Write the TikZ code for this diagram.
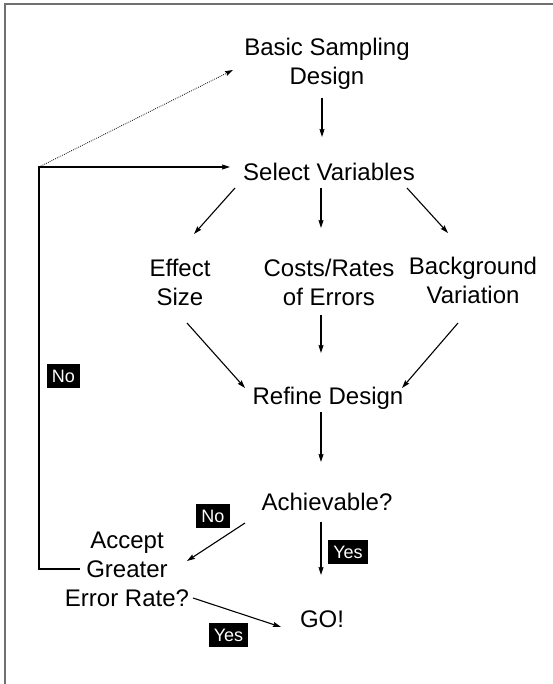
\documentclass[tikz,border=0pt]{standalone}
\usepackage{fontspec}
\setmainfont{Liberation Sans}
\usetikzlibrary{arrows.meta,calc}
\definecolor{framegray}{RGB}{112,112,112}
\begin{document}
\begin{tikzpicture}[x=1pt,y=-1pt,
  txt/.style={anchor=north,inner sep=0pt,align=center,font=\fontsize{24}{29}\selectfont},
  lbl/.style={fill=black,text=white,inner xsep=5pt,inner ysep=5.5pt,
    text height=13pt,text depth=0pt,font=\fontsize{18}{21}\selectfont},
  arr/.style={line width=1.1pt,-{Stealth[length=8pt,width=5pt,inset=1pt]}},
  dotarr/.style={line width=0.8pt,dash pattern=on 0.8pt off 1.2pt,
    -{Stealth[length=8pt,width=5pt,inset=1pt]}},
  frame/.style={line width=2pt,draw=framegray}]
\useasboundingbox (0,0) rectangle (553,684);
\draw[frame] (5,684) -- (5,4) -- (553,4);

% text nodes (north anchor = top of first line)
\node[txt] (bsd)  at (327,38)  {Basic Sampling\\Design};
\node[txt] (sv)   at (329,163) {Select Variables};
\node[txt] (eff)  at (180,259) {Effect\\Size};
\node[txt] (cost) at (329,259) {Costs/Rates\\of Errors};
\node[txt] (bg)   at (473,257) {Background\\Variation};
\node[txt] (rd)   at (328,387) {Refine Design};
\node[txt] (ach)  at (327,493) {Achievable?};
\node[txt] (acc)  at (127,532) {Accept\\Greater\\Error Rate?};
\node[txt] (go)   at (322,611) {GO!};
\coordinate (corner) at (39,167);

% connectors
\draw[arr] ($(bsd.north)+(-5,60)$) -- ($(sv.north)+(-7,-26)$);
\draw[arr] ($(acc.north)+(-47,37)$) -| (corner) -- ($(sv.north)+(-99,4)$);
\draw[dotarr] (corner) -- ($(bsd.north)+(-94,32)$);
\draw[arr] ($(sv.north)+(-94,25)$) -- ($(eff.north)+(14,-25)$);
\draw[arr] ($(sv.north)+(-8,25)$) -- ($(cost.north)+(-8,-31)$);
\draw[arr] ($(sv.north)+(78,25)$) -- ($(bg.north)+(-25,-24)$);
\draw[arr] ($(eff.north)+(7,64)$) -- ($(rd.north)+(-83,1)$);
\draw[arr] ($(cost.north)+(-8,56)$) -- ($(rd.north)+(-7,-34)$);
\draw[arr] ($(bg.north)+(-15,66)$) -- ($(rd.north)+(74,1)$);
\draw[arr] ($(rd.north)+(-7,25)$) -- ($(ach.north)+(-6,-31)$);
\draw[arr] ($(ach.north)+(-82,30)$) -- ($(acc.north)+(60,29)$);
\draw[arr] ($(ach.north)+(-6,29)$) -- ($(go.north)+(-1,-36)$);
\draw[arr] ($(acc.north)+(66,66)$) -- ($(go.north)+(-41,16)$);

% yes/no labels
\node[lbl] (noloop) at (63.5,376) {No};
\node[lbl] (noach)  at (213,515.5) {No};
\node[lbl] (yesach) at (348,552) {Yes};
\node[lbl] (yesacc) at (228.5,635) {Yes};
\end{tikzpicture}
\end{document}
